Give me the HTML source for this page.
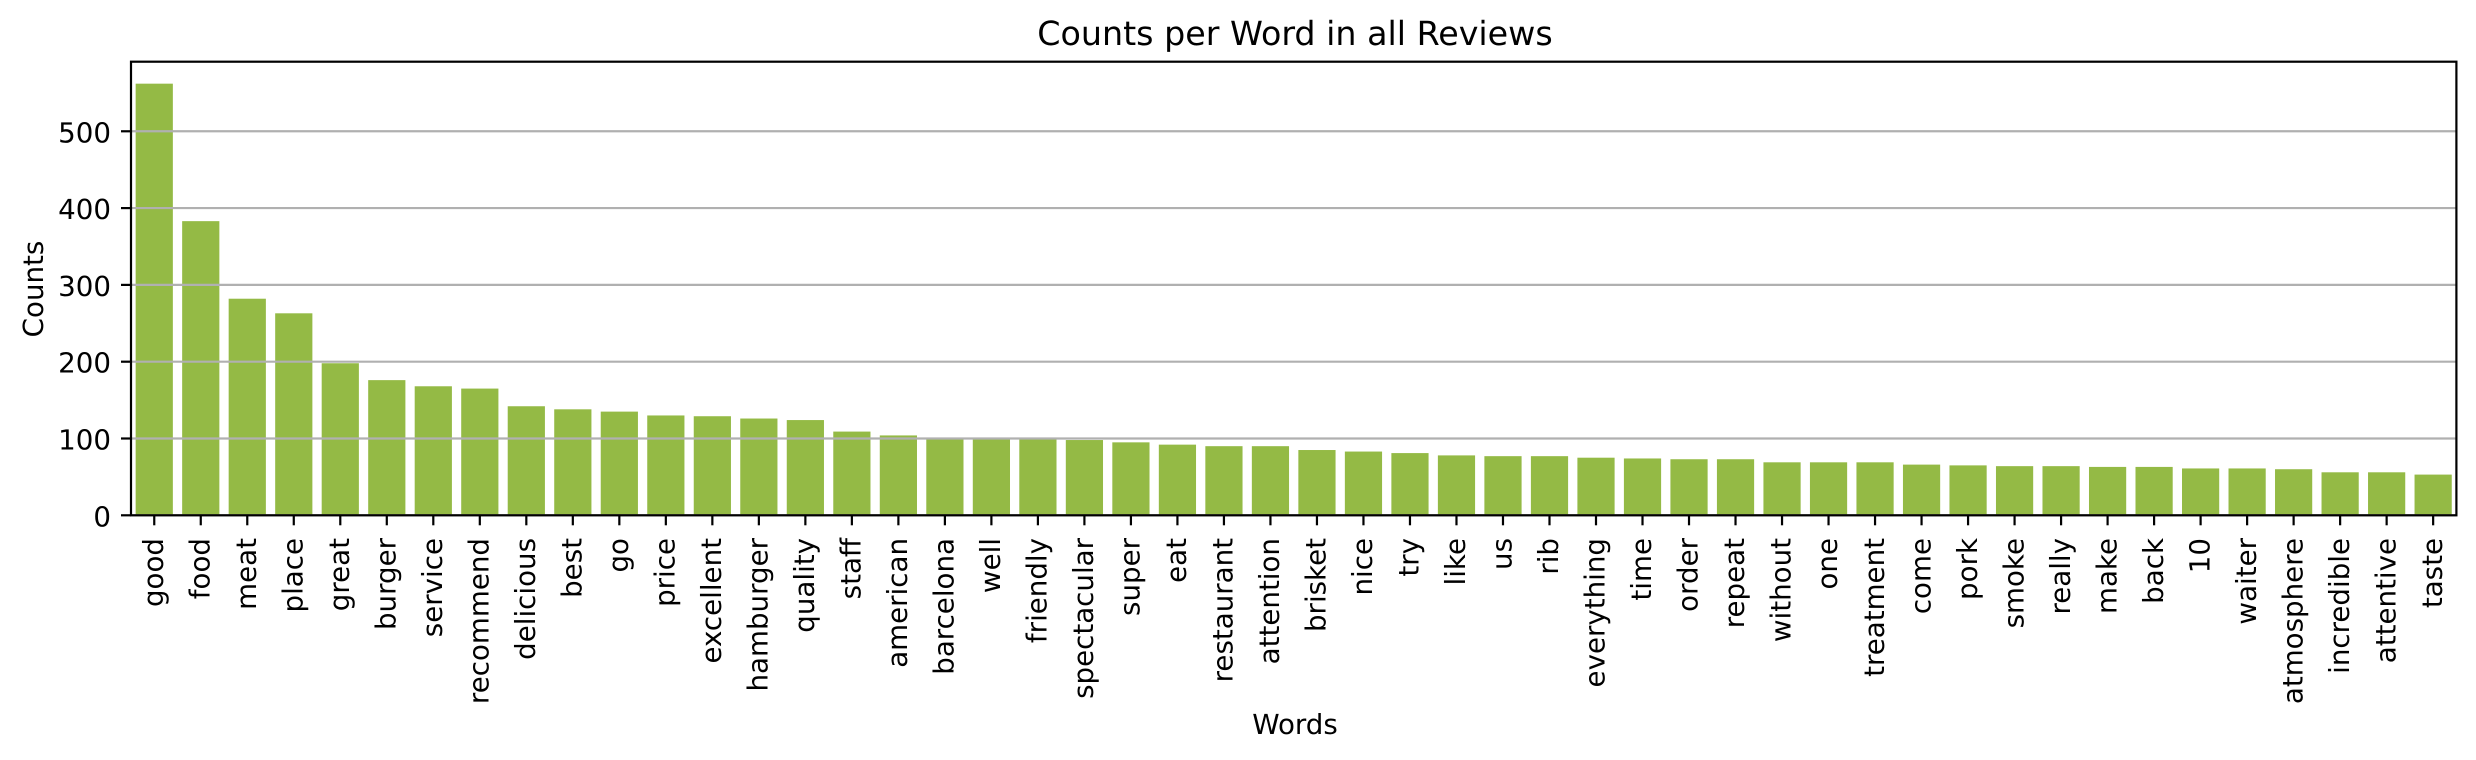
<!DOCTYPE html>
<html lang="en">
<head>
<meta charset="utf-8">
<title>Counts per Word in all Reviews</title>
<style>
  html, body { margin: 0; padding: 0; background: #fff; }
  svg { display: block; }
  text { font-family: "DejaVu Sans", "Liberation Sans", sans-serif; fill: #000; text-rendering: geometricPrecision; }
</style>
</head>
<body>
<svg id="chart" xmlns="http://www.w3.org/2000/svg" width="2476" height="760" viewBox="0 0 2476 760">
  <rect x="0" y="0" width="2476" height="760" fill="#ffffff"></rect>
  <g id="bars"></g>
  <g id="grid"></g>
  <g id="xticks"></g>
  <g id="yticks"></g>
  <rect id="frame" fill="none" stroke="#000" stroke-width="2.2"></rect>
  <text x="1295" y="45" text-anchor="middle" font-size="33.3">Counts per Word in all Reviews</text>
  <text x="1295" y="734" text-anchor="middle" font-size="27.7">Words</text>
  <text transform="translate(43 289) rotate(-90)" text-anchor="middle" font-size="27.7">Counts</text>
</svg>
<script>
const words = ["good","food","meat","place","great","burger","service","recommend","delicious","best","go","price","excellent","hamburger","quality","staff","american","barcelona","well","friendly","spectacular","super","eat","restaurant","attention","brisket","nice","try","like","us","rib","everything","time","order","repeat","without","one","treatment","come","pork","smoke","really","make","back","10","waiter","atmosphere","incredible","attentive","taste"];
const counts = [562,383,282,263,198,176,168,165,142,138,135,130,129,126,124,109,104,100,100,100,98,95,92,90,90,85,83,81,78,77,77,75,74,73,73,69,69,69,66,65,64,64,63,63,61,61,60,56,56,53];
const yTickValues = [0,100,200,300,400,500];

const SVG_NS = "http://www.w3.org/2000/svg";
const plot = { left: 131, right: 2456.4, top: 61.7, bottom: 515.3 };
const yMax = 590.6;
const bandWidth = (plot.right - plot.left) / words.length;

function xScale(i) { return plot.left + bandWidth * (i + 0.5); }
function yScale(v) { return plot.bottom - (plot.bottom - plot.top) * v / yMax; }
function make(tag, attrs, parent) {
  const el = document.createElementNS(SVG_NS, tag);
  for (const k in attrs) el.setAttribute(k, attrs[k]);
  parent.appendChild(el);
  return el;
}

const barsG = document.getElementById("bars");
const gridG = document.getElementById("grid");
const xG = document.getElementById("xticks");
const yG = document.getElementById("yticks");

words.forEach(function (word, i) {
  const w = bandWidth * 0.8;
  const bar = make("rect", { x: xScale(i) - w / 2, y: yScale(counts[i]), width: w, height: plot.bottom - yScale(counts[i]), fill: "#94ba45" }, barsG);
  
  

  const tick = make("line", { x1: xScale(i), x2: xScale(i), y1: plot.bottom, y2: plot.bottom + 10, stroke: "#000", "stroke-width": 2.2 }, xG);
  
  

  const label = make("text", { transform: "translate(" + (xScale(i) + 8.7) + " 538) rotate(-90)", "text-anchor": "end", "font-size": 27.7 }, xG);
  label.textContent = word;
  
  
});

yTickValues.forEach(function (v) {
  const y = yScale(v);
  const gridLine = make("line", { x1: plot.left, x2: plot.right, y1: y, y2: y, stroke: "#b0b0b0", "stroke-width": 2.2 }, gridG);
  
  

  const tick = make("line", { x1: plot.left - 10, x2: plot.left, y1: y, y2: y, stroke: "#000", "stroke-width": 2.2 }, yG);
  
  

  const label = make("text", { x: plot.left - 20, y: y + 11, "text-anchor": "end", "font-size": 27.7 }, yG);
  label.textContent = String(v);
  
  
});

const frame = document.getElementById("frame");
frame.setAttribute("x", plot.left);
frame.setAttribute("y", plot.top);
frame.setAttribute("width", plot.right - plot.left);
frame.setAttribute("height", plot.bottom - plot.top);
</script>
</body>
</html>
